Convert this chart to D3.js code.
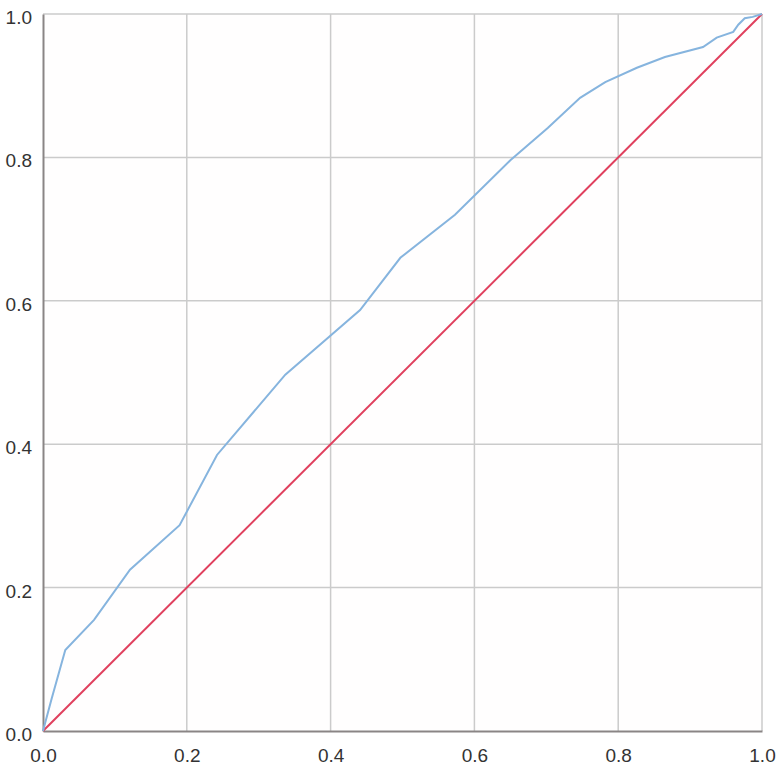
<!DOCTYPE html>
<html><head><meta charset="utf-8">
<script src="https://cdn.jsdelivr.net/npm/d3@7"></script>
<style>body{margin:0;background:#fff;}svg{display:block;}</style>
</head><body>
<svg id="c" width="780" height="768"></svg>
<script>
const rocX = [0, 0.012, 0.031, 0.071, 0.121, 0.19, 0.242, 0.337, 0.441, 0.497, 0.573, 0.65, 0.702, 0.747, 0.782, 0.826, 0.865, 0.918, 0.937, 0.960, 0.967, 0.976, 0.987, 1];
const rocY = [0, 0.045, 0.113, 0.155, 0.225, 0.287, 0.385, 0.497, 0.587, 0.66, 0.72, 0.796, 0.841, 0.883, 0.905, 0.925, 0.94, 0.954, 0.967, 0.975, 0.985, 0.994, 0.996, 1];
const refX = [0, 1];
const refY = [0, 1];
const ticks = [0, 0.2, 0.4, 0.6, 0.8, 1.0];

const svg = d3.select("#c");
const L = 43, R = 762, T = 14, B = 731;
const x = d3.scaleLinear().domain([0, 1]).range([L, R]);
const y = d3.scaleLinear().domain([0, 1]).range([B, T]);

svg.append("rect").attr("x", L).attr("y", T).attr("width", R - L).attr("height", B - T).attr("fill", "#fffefe");

// grid
svg.append("g").selectAll("line.gx").data(ticks.slice(1)).join("line")
  .attr("x1", d => x(d)).attr("x2", d => x(d)).attr("y1", T).attr("y2", B)
  .attr("stroke", "#cbcbcb").attr("stroke-width", 1.5);
svg.append("g").selectAll("line.gy").data(ticks.slice(1)).join("line")
  .attr("y1", d => y(d)).attr("y2", d => y(d)).attr("x1", L).attr("x2", R)
  .attr("stroke", "#cbcbcb").attr("stroke-width", 1.5);

// axes
const xAxis = d3.axisBottom(x).tickValues(ticks).tickFormat(d3.format(".1f")).tickSize(0).tickPadding(18);
const yAxis = d3.axisLeft(y).tickValues(ticks).tickFormat(d3.format(".1f")).tickSize(0).tickPadding(11);
const gx = svg.append("g").attr("transform", `translate(0,${B})`).call(xAxis);
const gy = svg.append("g").attr("transform", `translate(${L},0)`).call(yAxis);
[gx, gy].forEach(g => {
  g.select(".domain").attr("stroke", "#8a8585").attr("stroke-width", 2);
  g.selectAll("text").attr("font-family", "Liberation Sans, Arial, sans-serif").attr("font-size", 19).attr("fill", "#333");
});
gy.selectAll("text").attr("dy", "0.5em");

const line = d3.line().x(d => x(d[0])).y(d => y(d[1]));
svg.append("path").datum(refX.map((v, i) => [v, refY[i]])).attr("d", line)
  .attr("fill", "none").attr("stroke", "#e0405e").attr("stroke-width", 2);
svg.append("path").datum(rocX.map((v, i) => [v, rocY[i]])).attr("d", line)
  .attr("fill", "none").attr("stroke", "#86b4de").attr("stroke-width", 2);
</script>
</body></html>
